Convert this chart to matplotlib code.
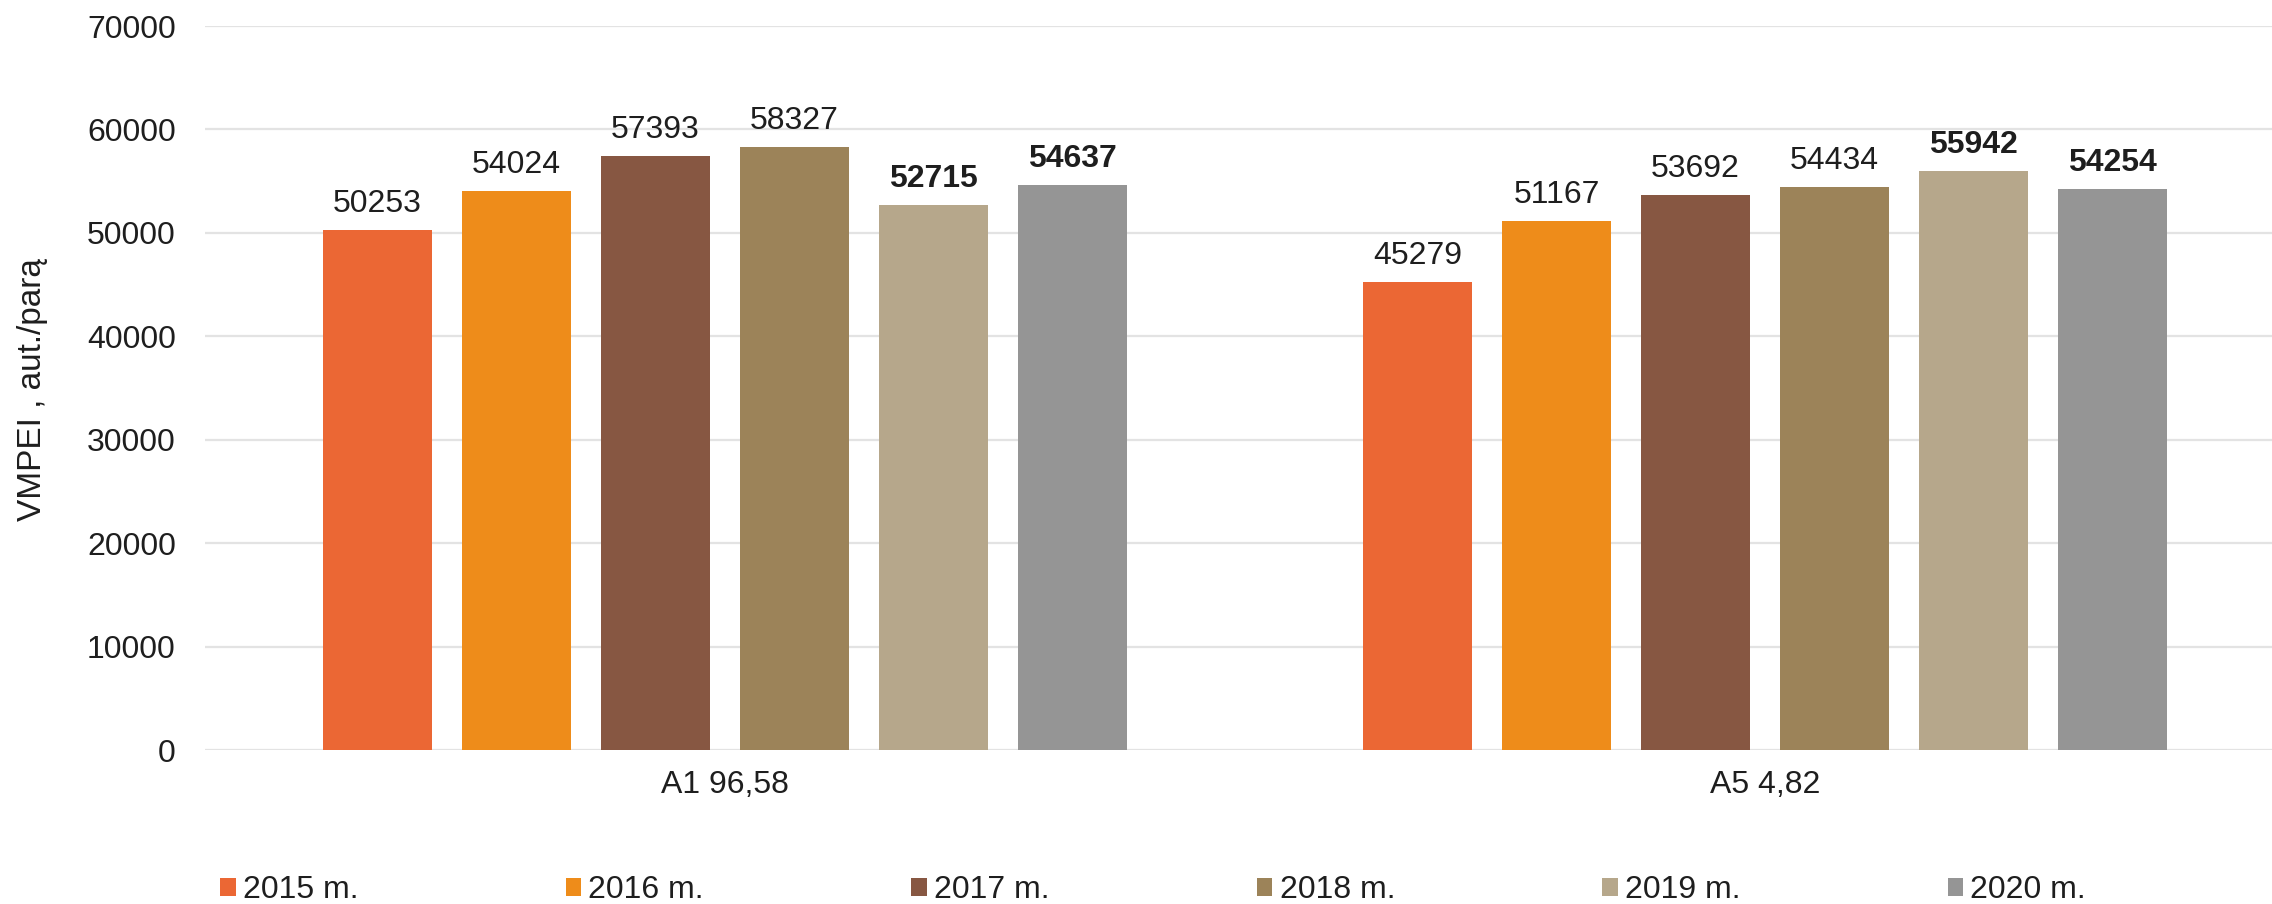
import matplotlib
matplotlib.use("Agg")
import matplotlib.pyplot as plt
from matplotlib.patches import Patch
import numpy as np

categories = ["A1 96,58", "A5 4,82"]
series = ["2015 m.", "2016 m.", "2017 m.", "2018 m.", "2019 m.", "2020 m."]
values = {
    "2015 m.": [50253, 45279],
    "2016 m.": [54024, 51167],
    "2017 m.": [57393, 53692],
    "2018 m.": [58327, 54434],
    "2019 m.": [52715, 55942],
    "2020 m.": [54637, 54254],
}
bold_series = ["2019 m.", "2020 m."]
colors = ["#EB6734", "#EE8C1A", "#875742", "#9C8359", "#B6A78B", "#959595"]
yticks = [0, 10000, 20000, 30000, 40000, 50000, 60000, 70000]
ylabel = "VMPEI , aut./parą"

plt.rcParams['font.family'] = ['Liberation Sans', 'DejaVu Sans']
TXT = "#1e1e1e"
FS = 23

W, H = 2272, 904
fig = plt.figure(figsize=(W / 100, H / 100 + 0.002), dpi=100)
ax = fig.add_axes([205 / W, 154 / H, 2067 / W, 724 / H])

x = np.arange(len(categories))
pitch = 0.13365
width = 0.1048
n = len(series)
for i, s in enumerate(series):
    xs = x + (i - (n - 1) / 2) * pitch
    ax.bar(xs, values[s], width=width, color=colors[i], zorder=3, label=s)
    for xi, v in zip(xs, values[s]):
        ax.annotate(str(v), (xi, v), xytext=(0, 13), textcoords="offset points",
                    ha="center", va="baseline", fontsize=FS, color=TXT,
                    fontweight="bold" if s in bold_series else "normal", zorder=4)

ax.set_xlim(-0.5, 1.4875)
ax.set_ylim(0, 70000)
ax.set_yticks(yticks)
ax.set_yticklabels([str(t) for t in yticks])
ax.set_xticks(x)
ax.set_xticklabels(categories)
ax.tick_params(axis="y", length=0, pad=21, labelsize=FS, labelcolor=TXT)
ax.tick_params(axis="x", length=0, pad=14, labelsize=FS, labelcolor=TXT)
for sp in ax.spines.values():
    sp.set_visible(False)
ax.yaxis.grid(True, color="#E3E3E3", linewidth=1.6, zorder=0)
ax.set_axisbelow(True)

fig.text(33 / W, 1 - 389 / H, ylabel, rotation=90, ha="center", va="center",
         fontsize=24, color=TXT)

handles = [Patch(facecolor=c, edgecolor="none") for c in colors]
leg = fig.legend(handles, series, loc="center left",
                 bbox_to_anchor=(220 / W, 1 - 890 / H), ncol=6, frameon=False,
                 fontsize=FS, handlelength=0.5, handleheight=0.5,
                 handletextpad=0.22, columnspacing=6.48, borderpad=0,
                 borderaxespad=0)
for t in leg.get_texts():
    t.set_color(TXT)

fig.savefig("out.png", dpi=100, facecolor="white")
